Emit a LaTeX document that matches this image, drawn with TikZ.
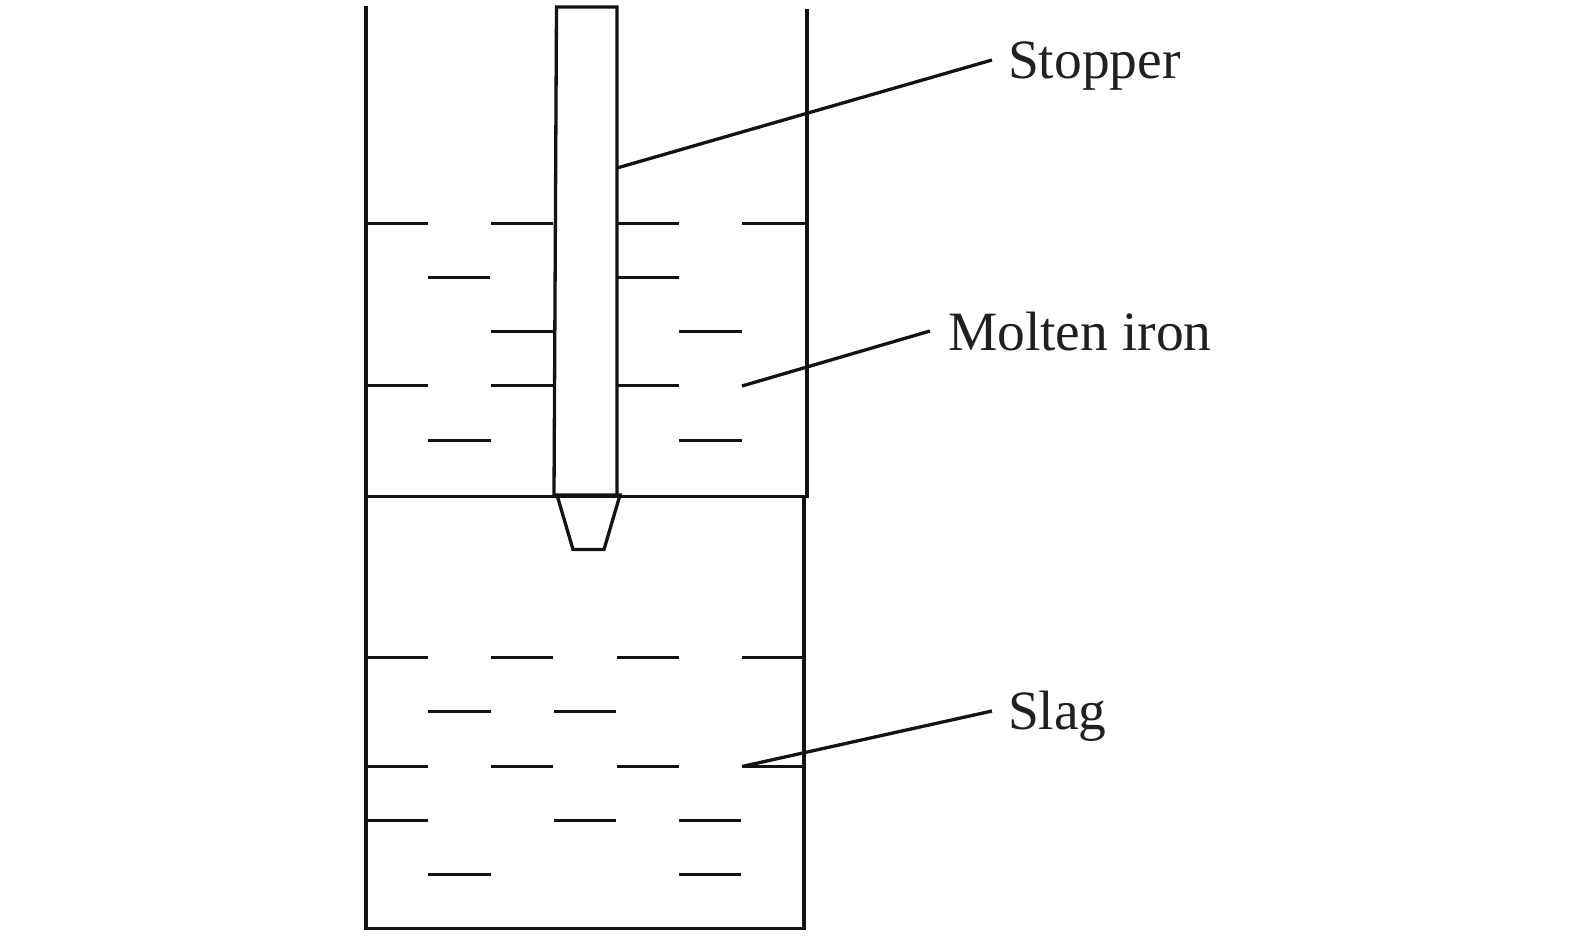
\documentclass[tikz,border=0pt]{standalone}
\usepackage{fontspec}
\setmainfont{Liberation Serif}
\definecolor{ink}{HTML}{111413}
\definecolor{txt}{HTML}{231F20}
\tikzset{
  wall/.style={draw=ink,line width=3.3pt},
  dashmark/.style={draw=ink,line width=3.2pt},
  leader/.style={draw=ink,line width=3.3pt},
  lbl/.style={anchor=base west,inner sep=0pt,outer sep=0pt,text=txt,font=\fontsize{55.5}{60}\selectfont}
}
\begin{document}
\begin{tikzpicture}[x=1pt,y=-1pt]
\useasboundingbox (0,0) rectangle (1575,935);
% vessel
\draw[wall] (366,6) -- (366,928.5) -- (804,928.5) -- (804,496.5);
\draw[wall] (807,9) -- (807,496.5) -- (366,496.5);
% stopper
\draw[wall] (554,495) -- (556.5,7) -- (617,7) -- (617,495);
\draw[wall,line join=miter] (557,495) -- (573,549.5) -- (604,549.5) -- (620,495) -- cycle;
% molten iron and slag marks
\foreach \xa/\xb/\yy in {366/428/223.5,491/553/223.5,617/679/223.5,742/805/223.5,
  428/490/277.5,617/679/277.5,
  491/553/331.5,679/742/331.5,
  366/428/385.5,491/553/385.5,617/679/385.5,
  428/491/440.5,679/742/440.5,
  366/428/657.5,491/553/657.5,617/679/657.5,742/804/657.5,
  428/491/711.5,554/616/711.5,
  366/428/766.5,491/553/766.5,617/679/766.5,742/804/766.5,
  366/428/820.5,554/616/820.5,679/741/820.5,
  428/491/874.5,679/741/874.5}
  \draw[dashmark] (\xa,\yy) -- (\xb,\yy);
% labels
\node[lbl] (stopper) at (1008,78) {Stopper};
\node[lbl] (iron) at (948,350) {Molten iron};
\node[lbl] (slag) at (1008,729) {Slag};
\coordinate (stopperEnd) at (992,60);
\coordinate (stopperTip) at (617,168);
\coordinate (ironEnd) at (930,331);
\coordinate (ironTip) at (742,386);
\coordinate (slagEnd) at (992,711);
\coordinate (slagTip) at (742,766.5);
\draw[leader] (stopperEnd) -- (stopperTip);
\draw[leader] (ironEnd) -- (ironTip);
\draw[leader] (slagEnd) -- (slagTip);
\end{tikzpicture}
\end{document}
